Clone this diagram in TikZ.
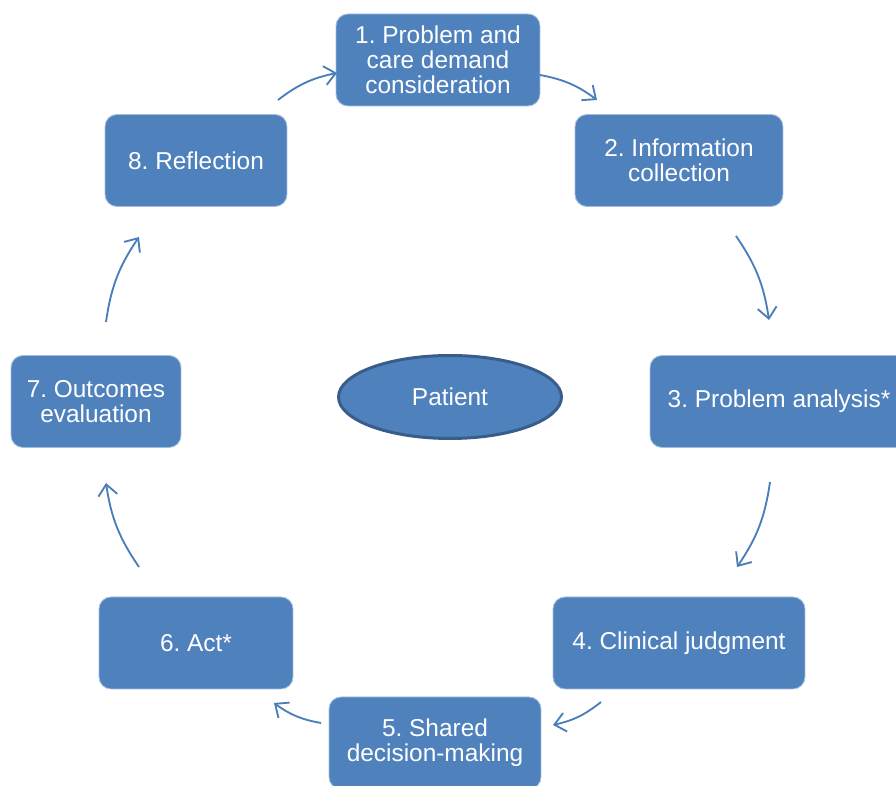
\documentclass[tikz,border=0pt]{standalone}
\usepackage{fontspec}
\setmainfont{Liberation Sans}
\usetikzlibrary{shapes,arrows.meta,positioning}
\definecolor{boxblue}{HTML}{4F81BD}
\definecolor{boxedge}{HTML}{A3BEDF}
\definecolor{ringblue}{HTML}{385D8A}
\definecolor{arrowblue}{HTML}{4A7EBB}
\frenchspacing

\begin{document}
\begin{tikzpicture}[
            x=0.02cm, y=0.02cm,
            box/.style={draw=boxedge, line width=0.5pt, rectangle, rounded corners=0.24cm, fill=boxblue, text=white, align=center, minimum height=1.84cm, inner sep=2pt, font=\fontsize{13.9}{14.2}\selectfont},
            cyc/.style={draw=arrowblue, line width=1.05pt, -{Straight Barb[length=0.22cm, width=0.38cm]}, bend left=13}
        ]
            \clip (0,0) rectangle (896,786);

            \node[box, minimum width=4.08cm] (problem) at (438,726) {1. Problem and\\care demand\\consideration};
            \node[box, minimum width=4.16cm] (info) at (679,625.5) {2. Information\\collection};
            \node[box, minimum width=5.16cm] (analysis) at (779,384.5) {3. Problem analysis*};
            \node[box, minimum width=5.04cm] (judgment) at (679,143) {4. Clinical judgment};
            \node[box, minimum width=4.24cm] (shared) at (435,43) {5. Shared\\decision-making};
            \node[box, minimum width=3.88cm] (act) at (196,143) {6. Act*};
            \node[box, minimum width=3.40cm] (outcome) at (96,384.5) {7. Outcomes\\evaluation};
            \node[box, minimum width=3.64cm] (reflect) at (196,625.5) {8. Reflection};

            \node[ellipse, draw=ringblue, line width=1.7pt, fill=boxblue, text=white, minimum width=4.46cm, minimum height=1.66cm, inner sep=0pt, font=\fontsize{13.9}{14.2}\selectfont] (patient) at (450,389) {Patient};

            % free ends of the cycle arrows
            \coordinate (p12) at (540,711);  \coordinate (q12) at (597,686);
            \coordinate (p23) at (736,550);  \coordinate (q23) at (769,466);
            \coordinate (p34) at (770,304);  \coordinate (q34) at (737,219);
            \coordinate (p45) at (601,84);   \coordinate (q45) at (553,61);
            \coordinate (p56) at (321,63);   \coordinate (q56) at (274,83);
            \coordinate (p67) at (139,219);  \coordinate (q67) at (106,303);
            \coordinate (p78) at (106,464);  \coordinate (q78) at (139,549);
            \coordinate (p81) at (278,686);  \coordinate (q81) at (337,713);

            \foreach \a in {12,23,34,45,56,67,78,81}
                \draw[cyc] (p\a) to (q\a);
        \end{tikzpicture}
\end{document}
